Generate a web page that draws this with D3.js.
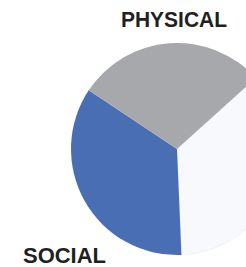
<!DOCTYPE html>
<html>
<head>
<meta charset="utf-8">
<script src="https://cdn.jsdelivr.net/npm/d3@7"></script>
<style>
  html, body { margin: 0; padding: 0; background: #ffffff; overflow: hidden; }
  svg { display: block; }
</style>
</head>
<body>
<div id="chart"></div>
<script>
// Data (the third slice's label lies outside the visible area)
const categories = ["OTHER", "SOCIAL", "PHYSICAL"];
const values = [36, 35, 29];
const colors = ["#f8f9fc", "#4a6eb4", "#a7a8ac"];
const shownLabels = ["PHYSICAL", "SOCIAL"];

const width = 246, height = 267;
const cx = 177, cy = 149, radius = 106;

const svg = d3.select("#chart").append("svg")
  .attr("width", width).attr("height", height);

const data = categories.map((c, i) => ({ name: c, value: values[i], color: colors[i] }));

const startDeg = 48;
const pie = d3.pie()
  .value(d => d.value)
  .sort(null)
  .startAngle(startDeg * Math.PI / 180)
  .endAngle((startDeg + 360) * Math.PI / 180);

const arc = d3.arc().innerRadius(0).outerRadius(radius);

const g = svg.append("g").attr("transform", `translate(${cx},${cy})`);
g.selectAll("path")
  .data(pie(data))
  .join("path")
  .attr("d", arc)
  .attr("fill", d => d.data.color)
  .attr("stroke", d => d.data.name === "OTHER" ? "#eef0f6" : "none")
  .attr("stroke-width", 0.8);

// Labels
const labelPos = {
  "PHYSICAL": { x: 121, y: 27, len: 106 },
  "SOCIAL": { x: 23, y: 263, len: 83 }
};
svg.selectAll("text.lbl")
  .data(shownLabels)
  .join("text")
  .attr("class", "lbl")
  .attr("x", d => labelPos[d].x)
  .attr("y", d => labelPos[d].y)
  .attr("textLength", d => labelPos[d].len)
  .attr("lengthAdjust", "spacingAndGlyphs")
  .attr("font-family", "'Liberation Sans', Arial, sans-serif")
  .attr("font-weight", "bold")
  .attr("font-size", 22)
  .attr("fill", "#231f20")
  .text(d => d);
</script>
</body>
</html>
